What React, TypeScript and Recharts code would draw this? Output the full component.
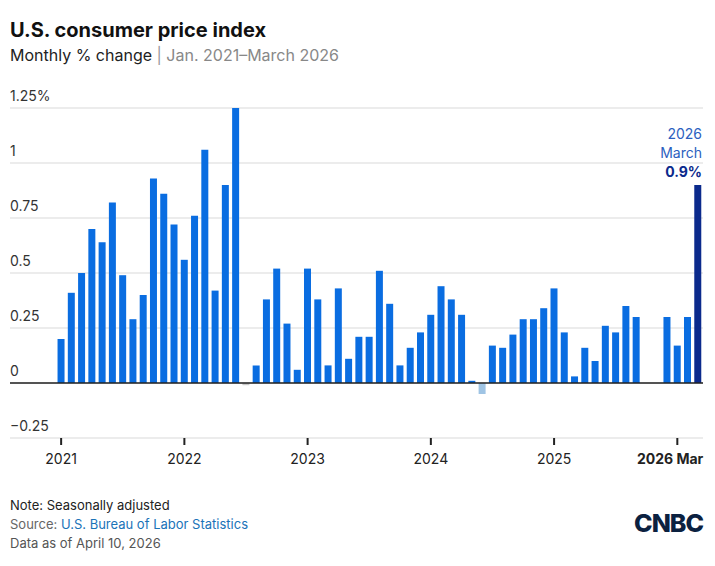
import React from 'react';
import { ComposedChart, Bar, XAxis, YAxis, CartesianGrid, ReferenceLine, Cell } from 'recharts';

const years = ['2021', '2022', '2023', '2024', '2025', '2026'];
const monthNums = ['01', '02', '03', '04', '05', '06', '07', '08', '09', '10', '11', '12'];

const cpi2021 = [0.2, 0.41, 0.5, 0.7, 0.64, 0.82, 0.49, 0.29, 0.4, 0.93, 0.86, 0.72];
const cpi2022 = [0.56, 0.76, 1.06, 0.42, 0.9, 1.25, -0.01, 0.08, 0.38, 0.52, 0.27, 0.06];
const cpi2023 = [0.52, 0.38, 0.08, 0.43, 0.11, 0.21, 0.21, 0.51, 0.36, 0.08, 0.16, 0.23];
const cpi2024 = [0.31, 0.44, 0.38, 0.31, 0.01, -0.05, 0.17, 0.16, 0.22, 0.29, 0.29, 0.34];
const cpi2025 = [0.43, 0.23, 0.03, 0.16, 0.1, 0.26, 0.23, 0.35, 0.3, null, null, 0.3];
const cpi2026 = [0.17, 0.3, 0.9];

const allValues = [cpi2021, cpi2022, cpi2023, cpi2024, cpi2025, cpi2026];
const data = allValues.flatMap((vals, yi) =>
  vals.map((v, mi) => ({ month: `${years[yi]}-${monthNums[mi]}`, value: v }))
);
const yearTicks = years.map((y) => `${y}-01`);
const yTicks = [-0.25, 0, 0.25, 0.5, 0.75, 1, 1.25];
const yLabels = ['−0.25', '0', '0.25', '0.5', '0.75', '1', '1.25%'];

const barColor = (v: number | null, i: number) => {
  if (i === data.length - 1) return '#0b2a8c';
  if (v === -0.01) return '#c8c8c8';
  if (v !== null && v < 0) return '#9fc4e4';
  return '#0a6de1';
};

const XTick = (props: any) => {
  const v: string = props.payload.value;
  const yr = v.slice(0, 4);
  if (yr === '2026') {
    return (
      <text x={props.x + 26} y={props.y + 17} fill="#222" fontSize={14} fontWeight={700} textAnchor="end">
        2026 Mar
      </text>
    );
  }
  return (
    <text x={props.x} y={props.y + 17} fill="#222" fontSize={14} textAnchor="middle">
      {yr}
    </text>
  );
};

const App: React.FC = () => {
  return (
    <div style={{ position: 'absolute', left: 0, top: 0, width: 715, height: 566, background: '#fff', fontFamily: 'Inter, "Noto Sans", sans-serif', color: '#222' }}>
      <div style={{ position: 'absolute', left: 10, top: 18, fontSize: 20, fontWeight: 700, color: '#111' }}>U.S. consumer price index</div>
      <div style={{ position: 'absolute', left: 10, top: 45, fontSize: 16, color: '#222' }}>
        Monthly % change <span style={{ color: '#999' }}>|</span> <span style={{ color: '#888' }}>Jan. 2021–March 2026</span>
      </div>

      <div style={{ position: 'absolute', top: 0, left: 0 }}>
        <ComposedChart width={715} height={480} data={data} margin={{ top: 108, right: 12, bottom: 0, left: 10 }} barCategoryGap="15%">
          <CartesianGrid vertical={false} stroke="#d9d9d9" />
          <XAxis
            dataKey="month"
            ticks={yearTicks}
            interval={0}
            height={42}
            padding={{ left: 46, right: 0 }}
            axisLine={false}
            tickLine={{ stroke: '#222', strokeWidth: 2 }}
            tickSize={7}
            tick={<XTick />}
          />
          <YAxis domain={[-0.25, 1.25]} ticks={yTicks} hide />
          {yTicks.map((t, i) => (
            <ReferenceLine
              key={`yl-${i}`}
              y={t}
              stroke="none"
              label={(p: any) => (
                <text x={10} y={p.viewBox.y - 7} fill="#333" fontSize={14} textAnchor="start">
                  {yLabels[i]}
                </text>
              )}
            />
          ))}
          <ReferenceLine y={0} stroke="#222" strokeWidth={1.5} />
          <Bar dataKey="value" isAnimationActive={false}>
            {data.map((d, i) => (
              <Cell key={`c-${i}`} fill={barColor(d.value, i)} />
            ))}
          </Bar>
        </ComposedChart>
      </div>

      <div style={{ position: 'absolute', right: 13, top: 124, textAlign: 'right', fontSize: 14, lineHeight: '19px', color: '#2c5fc0' }}>
        <div>2026</div>
        <div>March</div>
        <div style={{ fontWeight: 700, color: '#0b2a8c' }}>0.9%</div>
      </div>

      <div style={{ position: 'absolute', left: 10, top: 496, fontSize: 13, lineHeight: '19px' }}>
        <div style={{ color: '#222' }}>Note: Seasonally adjusted</div>
        <div style={{ color: '#666' }}>Source: <span style={{ color: '#1a73b8' }}>U.S. Bureau of Labor Statistics</span></div>
        <div style={{ color: '#555' }}>Data as of April 10, 2026</div>
      </div>
      <div style={{ position: 'absolute', right: 12, top: 508, fontSize: 25, fontWeight: 800, color: '#0b2140', letterSpacing: -1 }}>CNBC</div>
    </div>
  );
};

export default App;
